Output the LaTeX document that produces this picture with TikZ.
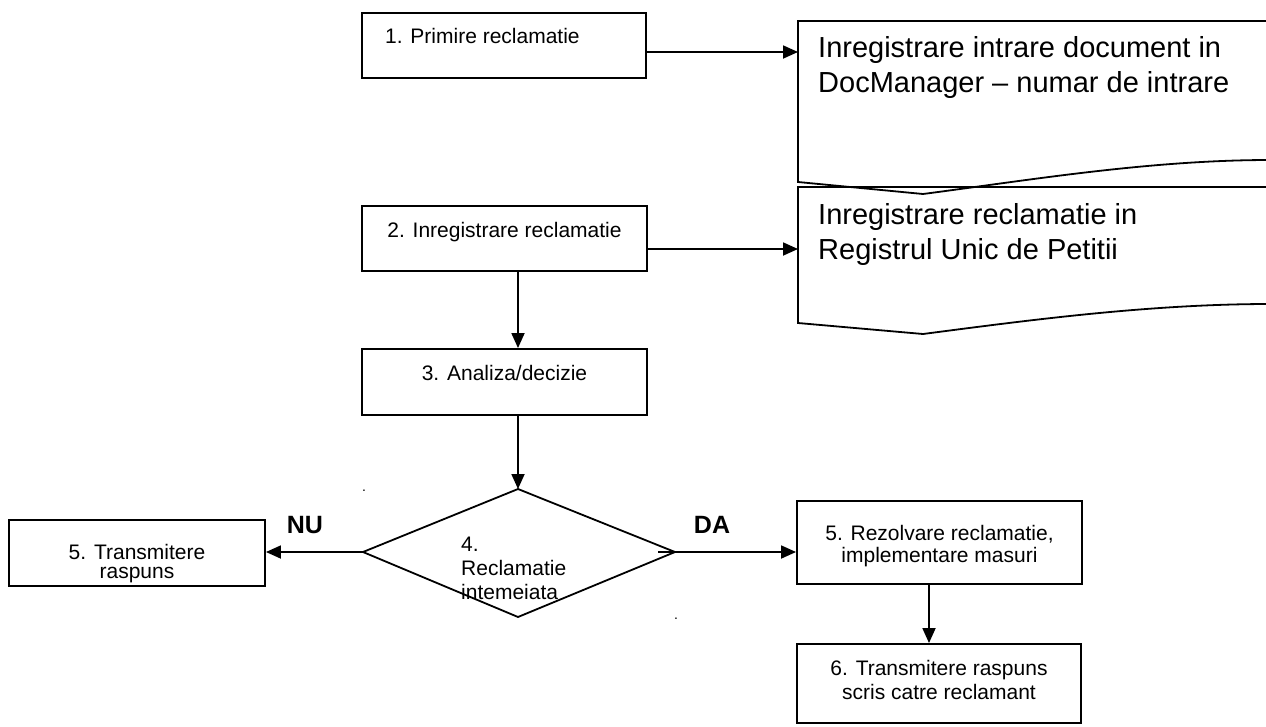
\documentclass[tikz,border=0pt]{standalone}
\usepackage{fontspec}
\setmainfont{Liberation Sans}
\usetikzlibrary{arrows.meta}
\newcommand\smallfnt{\fontsize{21}{24}\selectfont}
\newcommand\bigfnt{\fontsize{29}{35}\selectfont}
\newcommand\labfnt{\fontsize{25}{28}\selectfont\bfseries}
\begin{document}
\begin{tikzpicture}[x=1pt,y=-1pt,
  box/.style={draw,line width=1.9pt,inner sep=0pt,minimum width=#1},
  txt/.style={anchor=base,inner sep=0pt,font=\smallfnt},
  bigtxt/.style={anchor=base west,inner sep=0pt,font=\bigfnt},
  lab/.style={anchor=base,inner sep=0pt,font=\labfnt},
  arr/.style={line width=1.8pt,-{Triangle[length=15pt,width=13pt]}},
  docline/.style={line width=1.8pt}]
\useasboundingbox (0,0) rectangle (1266,726);
% boxes
\node[box=284pt,minimum height=65pt] (b1) at (504,45.5) {};
\node[box=285pt,minimum height=65pt] (b2) at (504.5,238.5) {};
\node[box=285pt,minimum height=66pt] (b3) at (504.5,382) {};
\node[box=256pt,minimum height=66pt] (b5l) at (137,553) {};
\node[box=285pt,minimum height=83pt] (b5r) at (939.5,542.5) {};
\node[box=284pt,minimum height=79pt] (b6) at (939,683.5) {};
% texts in boxes
\node[txt,anchor=base west] (t1) at (385,43) {1. Primire reclamatie};
\node[txt] (t2) at (504.5,237) {2. Inregistrare reclamatie};
\node[txt] (t3) at (504.5,380) {3. Analiza/decizie};
\node[txt] (t5la) at (137,559) {5. Transmitere};
\node[txt] (t5lb) at (137,578) {raspuns};
\node[txt] (t5ra) at (939.5,540) {5. Rezolvare reclamatie,};
\node[txt] (t5rb) at (939.5,562) {implementare masuri};
\node[txt] (t6a) at (939,675) {6. Transmitere raspuns};
\node[txt] (t6b) at (939,699) {scris catre reclamant};
% documents
\draw[docline] (1270,21) -- (798,21) -- (798,182)
  .. controls (860,188) .. (923,194)
  .. controls (1030,180) and (1150,160) .. (1270,160);
\draw[docline] (1270,187) -- (798,187) -- (798,323)
  .. controls (860,328) .. (923,334)
  .. controls (1030,320) and (1150,304) .. (1270,304);
\node[bigtxt] (d1a) at (818,57) {Inregistrare intrare document in};
\node[bigtxt] (d1b) at (818,92) {DocManager -- numar de intrare};
\node[bigtxt] (d2a) at (818,224) {Inregistrare reclamatie in};
\node[bigtxt] (d2b) at (818,259) {Registrul Unic de Petitii};
\coordinate (d1in) at (798,52);
\coordinate (d2in) at (798,249);
% diamond
\coordinate (dT) at (518,489);
\coordinate (dR) at (675,552);
\coordinate (dB) at (518,617);
\coordinate (dL) at (363,552);
\coordinate (dRs) at (658,552);
\draw[line width=1.8pt] (dT) -- (dR) -- (dB) -- (dL) -- cycle;
\node[txt,anchor=base west] (q1) at (461,551) {4.};
\node[txt,anchor=base west] (q2) at (461,575) {Reclamatie};
\node[txt,anchor=base west] (q3) at (461,599) {intemeiata};
% dots
\node[anchor=base,inner sep=0pt,font=\fontsize{14}{14}\selectfont] (dot1) at (364,491) {.};
\node[anchor=base,inner sep=0pt,font=\fontsize{14}{14}\selectfont] (dot2) at (676,619) {.};
% labels
\node[lab] (nu) at (305,533) {NU};
\node[lab] (da) at (712,533) {DA};
% connectors
\draw[arr] (b1.east |- d1in) -- (d1in);
\draw[arr] (b2.east |- d2in) -- (d2in);
\draw[arr] (b2.south -| dT) -- (b3.north -| dT);
\draw[arr] (b3.south -| dT) -- (dT);
\draw[arr] (dL) -- (b5l.east |- dL);
\draw[arr] (dRs) -- (b5r.west |- dRs);
\draw[arr] (b5r.south -| 929,0) -- (b6.north -| 929,0);
\end{tikzpicture}
\end{document}
